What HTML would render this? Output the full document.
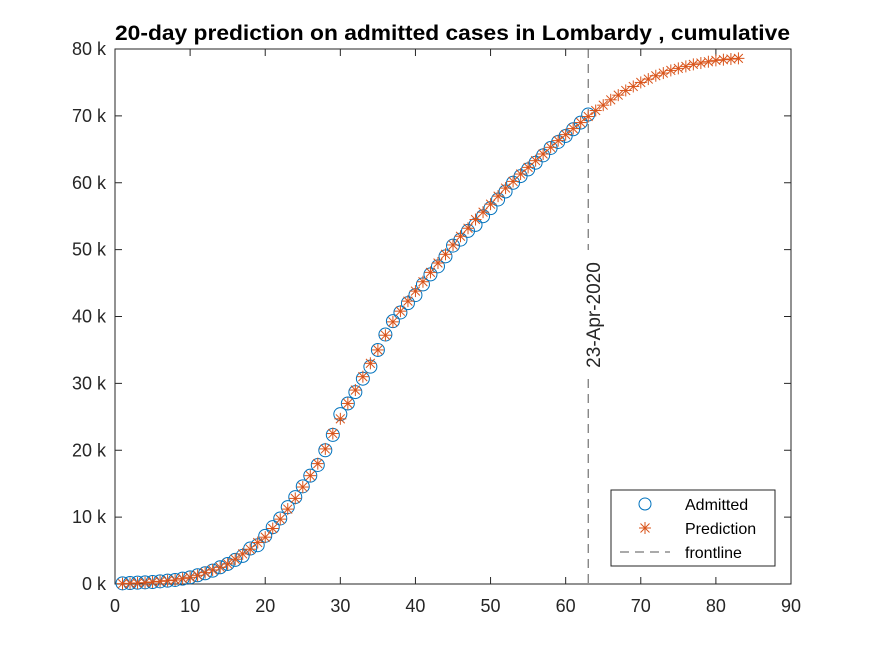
<!DOCTYPE html>
<html><head><style>body{margin:0;background:#fff}svg{display:block;font-family:"Liberation Sans",Arial,sans-serif}</style></head>
<body>
<svg id="s" width="875" height="656" viewBox="0 0 875 656" xmlns="http://www.w3.org/2000/svg">
<rect width="875" height="656" fill="#fff"/>
<text x="115" y="40" font-size="21" font-weight="bold" textLength="675" lengthAdjust="spacingAndGlyphs" fill="#000">20-day prediction on admitted cases in Lombardy , cumulative</text>
<rect x="115" y="49" width="676" height="535" fill="none" stroke="#262626" stroke-width="1"/>
<g id="ticks" stroke="#262626" stroke-width="1"></g>
<g id="labels" font-size="18" fill="#262626"></g>
<line x1="588.2" y1="49" x2="588.2" y2="584" stroke="#555" stroke-dasharray="9,6"/>
<rect x="576" y="250" width="24" height="128" fill="#fff"/>
<text transform="translate(600,315) rotate(-90)" font-size="19" text-anchor="middle" fill="#262626">23-Apr-2020</text>
<g id="pts"></g>
<rect x="611" y="490" width="164" height="76" fill="#fff" stroke="#262626"/>
<circle cx="645" cy="504" r="6" fill="none" stroke="#0072BD"/>
<g stroke="#D95319" stroke-width="1"><line x1="639" y1="528" x2="651" y2="528"/><line x1="645" y1="522" x2="645" y2="534"/><line x1="640.5" y1="523.5" x2="649.5" y2="532.5"/><line x1="640.5" y1="532.5" x2="649.5" y2="523.5"/></g>
<line x1="620" y1="552" x2="670" y2="552" stroke="#555" stroke-dasharray="9,6"/>
<g font-size="16" fill="#000"><text x="685" y="510">Admitted</text><text x="685" y="534">Prediction</text><text x="685" y="558">frontline</text></g>
</svg>
<script>
var X=function(v){return 115+v*676/90},Y=function(v){return 584-v*535/80};
var t=document.getElementById('ticks'),l=document.getElementById('labels'),ns="http://www.w3.org/2000/svg";
function el(p,n,a,txt){var e=document.createElementNS(ns,n);for(var k in a)e.setAttribute(k,a[k]);if(txt!==undefined)e.textContent=txt;p.appendChild(e);return e;}
for(var i=0;i<=90;i+=10){var x=X(i);el(t,'line',{x1:x,y1:584,x2:x,y2:577});el(t,'line',{x1:x,y1:49,x2:x,y2:56});el(l,'text',{x:x,y:612,'text-anchor':'middle'},String(i));}
for(var j=0;j<=80;j+=10){var y=Y(j*1);el(t,'line',{x1:115,y1:y,x2:122,y2:y});el(t,'line',{x1:791,y1:y,x2:784,y2:y});el(l,'text',{x:106,y:y+6,'text-anchor':'end'},j+' k');}
var a=[0.1,0.15,0.2,0.25,0.3,0.4,0.5,0.6,0.8,1.0,1.3,1.6,2.0,2.5,3.0,3.6,4.2,5.3,5.8,7.2,8.5,9.8,11.5,13,14.6,16.2,17.8,20,22.3,25.4,27,28.7,30.7,32.5,35,37.3,39.3,40.6,42,43.2,44.8,46.3,47.5,49,50.6,51.5,52.8,53.7,55,56.2,57.5,58.7,60,61,62,63,64.1,65.2,66.1,67,68,69,70.2];
var p=[0.05,0.1,0.15,0.2,0.3,0.4,0.5,0.6,0.8,1.0,1.3,1.7,2.1,2.5,3.0,3.7,4.5,5.2,6.2,7.0,8.3,9.7,11.2,12.8,14.5,16.2,18,20.2,22.5,24.7,27,29,31,33,35,37.2,39.2,40.8,42.3,43.8,45.2,46.6,48,49.3,50.7,52,53.2,54.5,55.6,56.8,58,59.2,60.2,61.3,62.3,63.3,64.3,65.3,66.3,67.2,68.1,69,69.9,70.8,71.6,72.4,73.1,73.8,74.4,75,75.5,76,76.4,76.8,77.1,77.4,77.7,77.9,78.1,78.3,78.4,78.5,78.6];
var g=document.getElementById('pts');
a.forEach(function(v,i){el(g,'circle',{cx:X(i+1),cy:Y(v),r:6.5,fill:'none',stroke:'#0072BD'});});
p.forEach(function(v,i){var x=X(i+1),y=Y(v),s=6,d=4.4;var gg=el(g,'g',{stroke:'#D95319'});
el(gg,'line',{x1:x-s,y1:y,x2:x+s,y2:y});el(gg,'line',{x1:x,y1:y-s,x2:x,y2:y+s});
el(gg,'line',{x1:x-d,y1:y-d,x2:x+d,y2:y+d});el(gg,'line',{x1:x-d,y1:y+d,x2:x+d,y2:y-d});});
</script>
</body></html>
